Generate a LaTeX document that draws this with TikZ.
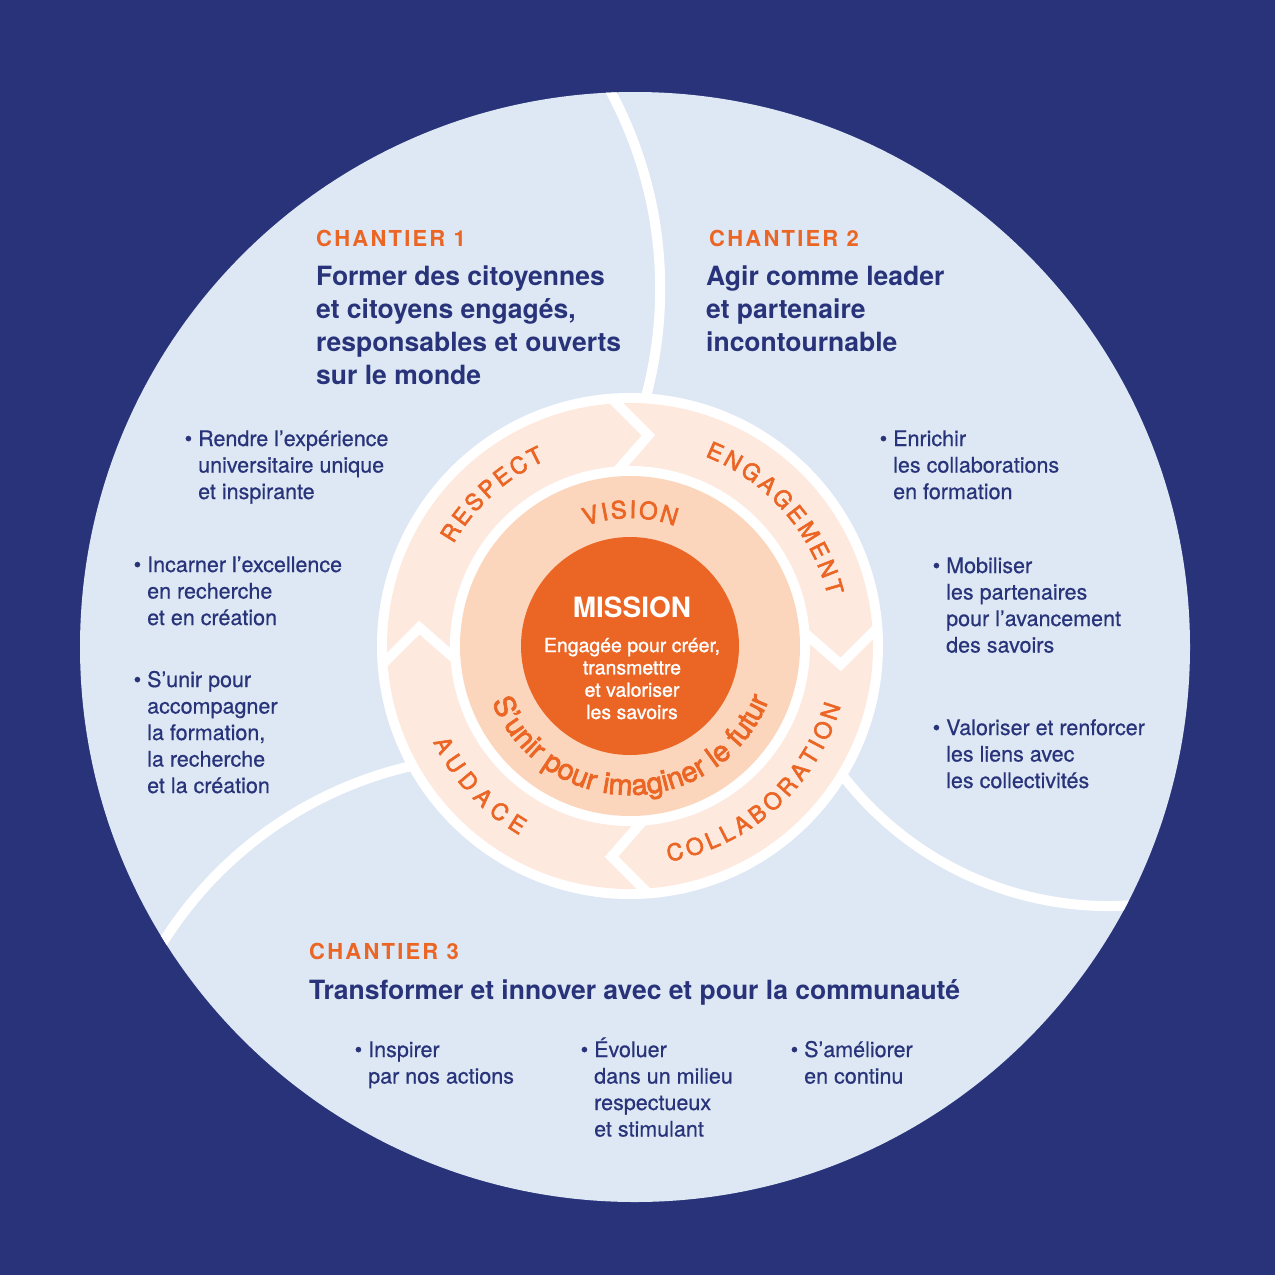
\documentclass[tikz,border=0pt]{standalone}
\usepackage{fontspec}
\setmainfont{TeX Gyre Heros}
\usepackage{xcolor}
\usetikzlibrary{decorations.text}

\definecolor{navy}{RGB}{40,51,122}
\definecolor{paleblue}{RGB}{221,232,244}
\definecolor{uorange}{RGB}{235,101,36}
\definecolor{peach}{RGB}{252,214,188}
\definecolor{palepeach}{RGB}{253,233,222}

\newcommand\puce{\llap{\textbullet\hspace{6pt}}}
\newcommand\ringfont{\fontsize{23}{23}\selectfont\addfontfeature{FakeBold=2.5}}
\newcommand\visionfont{\fontsize{24}{24}\selectfont\addfontfeature{FakeBold=2.5}}
\newcommand\futurfont{\fontsize{29}{29}\selectfont\addfontfeature{FakeBold=2.5}}
\newdimen\largeur
% font, name, radius, centre angle, tracking, direction, letters
\newcommand\arcword[7]{%
    \xdef\arclong{0}
    \foreach \lettre in {#7} {
        \pgfinterruptpicture\setbox0=\hbox{#1\lettre}\global\largeur=\wd0\endpgfinterruptpicture
        \pgfmathsetmacro\tmp{\arclong+\largeur+#5}
        \xdef\arclong{\tmp}
    }
    \xdef\arcrun{0}
    \foreach \lettre [count=\i] in {#7} {
        \pgfinterruptpicture\setbox0=\hbox{#1\lettre}\global\largeur=\wd0\endpgfinterruptpicture
        \pgfmathsetmacro\ang{#4-(#6)*(\arcrun+\largeur/2-(\arclong-#5)/2)/#3*180/pi}
        \node[ringletter, font=#1, rotate=\ang-(#6)*90] (#2-\i) at (\ang:#3) {\lettre};
        \pgfmathsetmacro\tmp{\arcrun+\largeur+#5}
        \xdef\arcrun{\tmp}
    }}

\begin{document}
\begin{tikzpicture}[x=1pt, y=1pt,
    chantier/.style={anchor=base west, inner sep=0pt, text=uorange,
      font=\fontsize{22}{26}\selectfont\bfseries\addfontfeature{LetterSpace=10}},
    titre/.style={anchor=base west, inner sep=0pt, align=left, text=navy,
      font=\fontsize{26.5}{33}\selectfont\bfseries},
    puces/.style={anchor=base west, inner sep=0pt, align=left, text=navy,
      font=\fontsize{21.5}{26.5}\selectfont\addfontfeature{FakeBold=0.6}},
    separator/.style={white, line width=10pt},
    ringletter/.style={anchor=base, inner sep=0pt, text=uorange}]
    \useasboundingbox (0,0) rectangle (1275,-1275);
    \fill[navy] (0,0) rectangle (1275,-1275);
    \fill[paleblue] (635,-647) circle[radius=555];

    \begin{scope}
        \clip (635,-647) circle[radius=555];
        \draw[separator] (243.5,-288.6) ++(30:416.7) arc[start angle=30, end angle=-20, radius=416.7];
        \draw[separator] (500,-1154) ++(100:398) arc[start angle=100, end angle=150, radius=398];
        \draw[separator] (1108,-571) ++(-145:335) arc[start angle=-145, end angle=-80, radius=335];
    \end{scope}

    \begin{scope}[shift={(630,-646)}]
        \fill[white] (0,0) circle[radius=253];
        \fill[palepeach] (0,0) circle[radius=243];
        \foreach \a in {94,4,-86,-176}
            \draw[white, line width=10pt, line join=miter] (\a:176) -- ({\a-9}:211.5) -- (\a:247);
        \fill[white] (0,0) circle[radius=180];
        \fill[peach] (0,0) circle[radius=170];
        \fill[uorange] (0,0) circle[radius=109];

        \arcword{\ringfont}{respect}{204}{132.3}{2.9}{1}{R,E,S,P,E,C,T}
        \arcword{\ringfont}{engagement}{204}{41.3}{3.3}{1}{E,N,G,A,G,E,M,E,N,T}
        \arcword{\ringfont}{collaboration}{219}{-47.85}{4.1}{-1}{C,O,L,L,A,B,O,R,A,T,I,O,N}
        \arcword{\ringfont}{audace}{219}{222.85}{6.6}{-1}{A,U,D,A,C,E}
        \arcword{\visionfont}{vision}{128}{89.85}{2}{1}{V,I,S,I,O,N}
        \path[decorate, decoration={text along path, text align=center, text color=uorange,
            text={|\futurfont|S’unir pour imaginer le futur}}] (180:149) arc[start angle=180, end angle=361, radius=149];
    \end{scope}

    \node[text=white, anchor=base, font=\fontsize{28}{30}\selectfont\bfseries] (mission) at (632,-617) {MISSION};
    \node[text=white, anchor=base, align=center, font=\fontsize{19.5}{22.3}\selectfont\addfontfeature{FakeBold=1.2}] (engagee) at (632,-719)
        {Engagée pour créer,\\transmettre\\et valoriser\\les savoirs};

    \node[chantier] (chantier1) at (316,-246) {CHANTIER 1};
    \node[titre] (titre1) at (316,-384) {Former des citoyennes\\et citoyens engagés,\\responsables et ouverts\\sur le monde};
    \node[puces] (rendre) at (198,-499) {\puce Rendre l’expérience\\universitaire unique\\et inspirante};
    \node[puces] (incarner) at (147,-625) {\puce Incarner l’excellence\\en recherche\\et en création};
    \node[puces] (sunir) at (147,-793) {\puce S’unir pour\\accompagner\\la formation,\\la recherche\\et la création};

    \node[chantier] (chantier2) at (709,-246) {CHANTIER 2};
    \node[titre] (titre2) at (706,-351) {Agir comme leader\\et partenaire\\incontournable};
    \node[puces] (enrichir) at (893,-499) {\puce Enrichir\\les collaborations\\en formation};
    \node[puces] (mobiliser) at (946,-652.5) {\puce Mobiliser\\les partenaires\\pour l’avancement\\des savoirs};
    \node[puces] (valoriser) at (946,-788) {\puce Valoriser et renforcer\\les liens avec\\les collectivités};

    \node[chantier] (chantier3) at (309,-959) {CHANTIER 3};
    \node[titre] (titre3) at (309,-999) {Transformer et innover avec et pour la communauté};
    \node[puces] (inspirer) at (368,-1083.5) {\puce Inspirer\\par nos actions};
    \node[puces] (evoluer) at (594,-1136.5) {\puce Évoluer\\dans un milieu\\respectueux\\et stimulant};
    \node[puces] (ameliorer) at (804,-1083.5) {\puce S’améliorer\\en continu};
\end{tikzpicture}
\end{document}
